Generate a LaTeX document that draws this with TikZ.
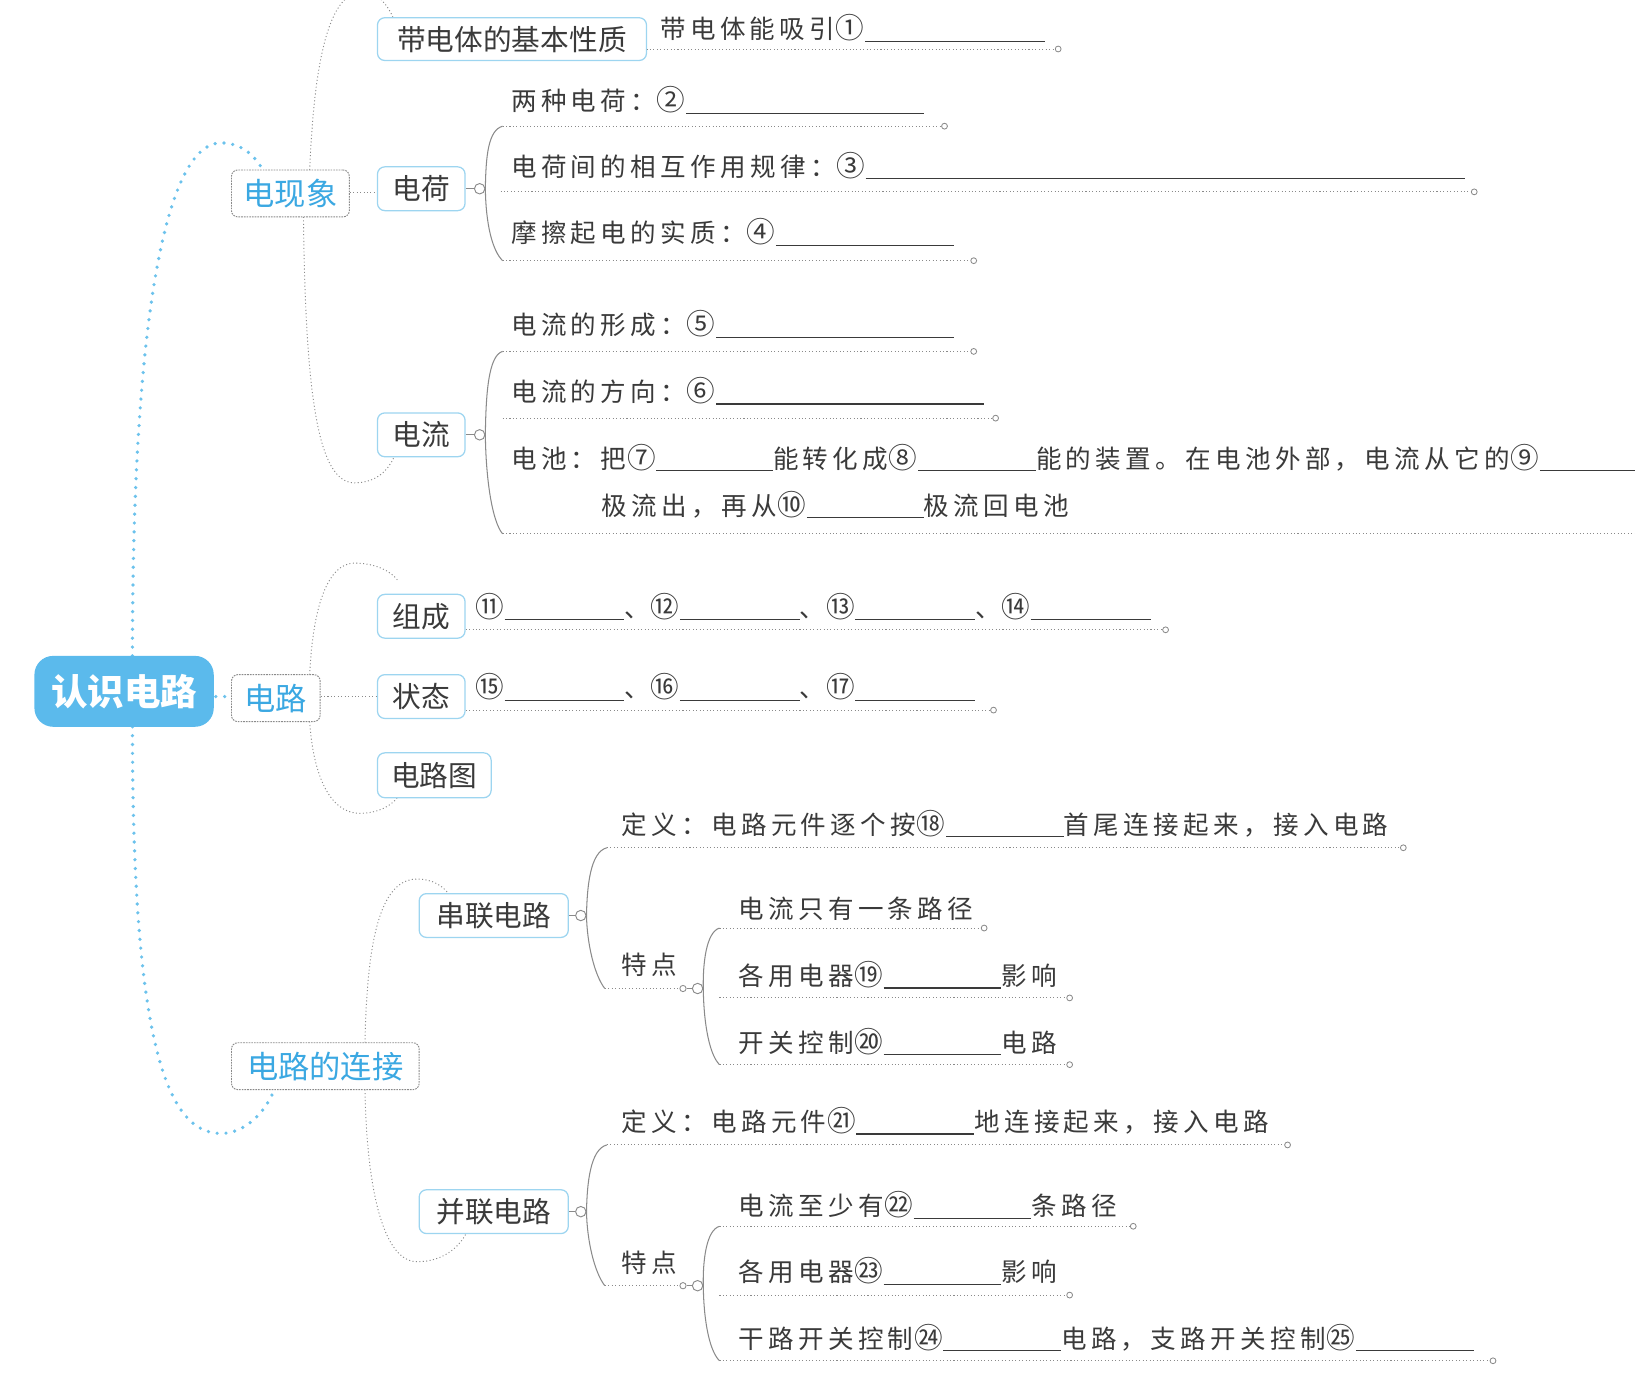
\documentclass[tikz,border=0pt]{standalone}
\usepackage{fontspec}
\newfontfamily\cjk{Noto Sans CJK SC}
\newfontfamily\leaf[LetterSpace=17]{Noto Sans CJK SC}
\definecolor{rootblue}{HTML}{5BBAEC}
\definecolor{skytext}{HTML}{3BA8E2}
\definecolor{lightedge}{HTML}{9DD5F0}
\definecolor{textgray}{HTML}{3A3A3A}
\definecolor{dotblue}{HTML}{6CC2EC}
\definecolor{linegray}{HTML}{8A8A8A}
\newcommand\bl[1]{\rule[-3pt]{#1pt}{1.1pt}}
\newcommand\cn[1]{\makebox[28.7pt][c]{\scalebox{1.12}{#1}}}
\newcommand\uline[3]{%
  \coordinate (#1s) at (#2);
  \coordinate (#1e) at (#3);
  \draw[dotline] (#1s) -- (#1e);
  \draw[linegray, line width=0.8pt, fill=white] (#1e) ++(2.8,0) circle (2.8pt);}
\begin{document}
\begin{tikzpicture}[x=1pt,y=-1pt,
  lvlone/.style={draw=linegray, line width=0.9pt, dash pattern=on 1.6pt off 1pt, rounded corners=6pt, fill=white,
    font=\cjk\fontsize{30}{30}\selectfont, text=skytext, minimum height=45pt, inner sep=0pt},
  lvltwo/.style={draw=lightedge, line width=1.2pt, rounded corners=7pt, fill=white,
    font=\cjk\fontsize{27.5}{28}\selectfont, text=textgray, minimum height=42pt, inner sep=0pt},
  leaftext/.style={anchor=base west, inner sep=0pt, font=\leaf\fontsize{24.5}{30}\selectfont, text=textgray},
  dotline/.style={draw=linegray, line width=0.9pt, dash pattern=on 1pt off 2.3pt},
  curvedots/.style={draw=linegray, line width=0.9pt, dash pattern=on 1pt off 2.3pt},
  bluedots/.style={draw=dotblue, line width=3.5pt, line cap=round, dash pattern=on 0pt off 8.5pt},
  bracket/.style={draw=linegray, line width=1pt},
  knot/.style={circle, draw=linegray, line width=0.9pt, fill=white, minimum size=10pt, inner sep=0pt},
  smallknot/.style={circle, draw=linegray, line width=0.8pt, fill=white, minimum size=6pt, inner sep=0pt}
]
\useasboundingbox (0,0) rectangle (1568,1323);

% ---------- blue main curves ----------
\coordinate (topA) at (252,163);
\coordinate (botA) at (263,1045);
\draw[bluedots] (127,629) .. controls (127,300) and (160,137) .. (212,137) .. controls (232,137) and (245,150) .. (topA);
\draw[bluedots] (127,697) .. controls (127,1000) and (160,1087) .. (212,1087) .. controls (235,1087) and (255,1066) .. (botA);
\draw[bluedots] (207,668) -- (221,668);

% ---------- gray dotted curves (level 1 -> level 2) ----------
\draw[curvedots] (297,163) .. controls (302,40) and (320,-8) .. (348,-8) .. controls (362,-8) and (372,5) .. (377,17);
\draw[curvedots] (291,208) .. controls (293,380) and (305,463) .. (340,463) .. controls (360,463) and (372,452) .. (378,438);
\draw[curvedots] (297,647) .. controls (300,580) and (315,540) .. (340,540) .. controls (360,540) and (375,548) .. (381,556);
\draw[curvedots] (297,692) .. controls (300,740) and (315,780) .. (345,780) .. controls (362,780) and (375,773) .. (381,765);
\draw[curvedots] (350,1000) .. controls (352,900) and (365,843) .. (400,843) .. controls (415,843) and (425,850) .. (430,857);
\draw[curvedots] (350,1045) .. controls (352,1150) and (370,1210) .. (400,1210) .. controls (425,1210) and (440,1196) .. (447,1183);

% ---------- root & level 1 ----------
\node[fill=rootblue, rounded corners=18pt, minimum width=172pt, minimum height=68pt, inner sep=0pt,
  text=white, font=\cjk\bfseries\fontsize{35}{35}\selectfont] (root) at (119,663) {认识电路};
\node[lvlone, minimum width=113pt] (phen) at (278.5,185.5) {电现象};
\node[lvlone, minimum width=85pt] (circ) at (264.5,669.5) {电路};
\node[lvlone, minimum width=180pt] (conn) at (312,1022.5) {电路的连接};

% ---------- level 2 ----------
\node[lvltwo, minimum width=258pt, minimum height=41pt] (prop) at (491,37.5) {带电体的基本性质};
\node[lvltwo, minimum width=84pt] (charge) at (404,181) {电荷};
\node[lvltwo, minimum width=84pt] (curr) at (404,417) {电流};
\node[lvltwo, minimum width=84pt] (comp) at (404,591) {组成};
\node[lvltwo, minimum width=84pt] (state) at (404,668) {状态};
\node[lvltwo, minimum width=109pt, minimum height=43pt] (diag) at (416.5,743.5) {电路图};
\node[lvltwo, minimum width=143pt] (series) at (473.5,878) {串联电路};
\node[lvltwo, minimum width=143pt] (para) at (473.5,1162) {并联电路};

\draw[dotline] (phen.east |- 0,185) -- (charge.west |- 0,185);
\draw[dotline] (circ.east |- 0,668) -- (state.west);

% ---------- 带电体的基本性质 ----------
\node[leaftext] (t1) at (633,37) {带电体能吸引\cn{①}\bl{172}};
\uline{u1}{620,47}{1012,47}

% ---------- 电荷 ----------
\node[knot] (k1) at (460,181) {};
\draw[bracket] (charge.east) -- (k1.west);
\node[leaftext] (t2) at (490,106) {两种电荷：\cn{②}\bl{228}};
\node[leaftext] (t3) at (490,169) {电荷间的相互作用规律：\cn{③}\bl{575}};
\node[leaftext] (t4) at (490,233) {摩擦起电的实质：\cn{④}\bl{171}};
\uline{u2}{482,121}{903,121}
\uline{u3}{480,184}{1411,184}
\uline{u4}{482,250}{931,250}
\draw[bracket] (u2s) .. controls (468,125) and (466,150) .. (k1.east) .. controls (466,215) and (472,240) .. (u4s);

% ---------- 电流 ----------
\node[knot] (k2) at (460,417) {};
\draw[bracket] (curr.east) -- (k2.west);
\node[leaftext] (t5) at (490,321) {电流的形成：\cn{⑤}\bl{228}};
\node[leaftext] (t6) at (490,385) {电流的方向：\cn{⑥}\bl{257}};
\node[leaftext] (t7) at (490,449) {电池：把\cn{⑦}\bl{112}能转化成\cn{⑧}\bl{113}能的装置。在电池外部，电流从它的\cn{⑨}\bl{100}};
\node[leaftext] (t7b) at (577,494) {极流出，再从\cn{⑩}\bl{112}极流回电池};
\uline{u5}{482,337}{931,337}
\uline{u6}{482,401}{952,401}
\coordinate (u7s) at (482,512);
\coordinate (u7e) at (1580,512);
\draw[dotline] (u7s) -- (u7e);
\draw[bracket] (u5s) .. controls (468,341) and (466,380) .. (k2.east) .. controls (466,460) and (472,500) .. (u7s);

% ---------- 组成 / 状态 ----------
\node[leaftext] (t8) at (455,592) {\cn{⑪}\bl{115}、\cn{⑫}\bl{115}、\cn{⑬}\bl{115}、\cn{⑭}\bl{115}};
\uline{u8}{comp.east |- 0,604}{1115,604}
\node[leaftext] (t9) at (455,669) {\cn{⑮}\bl{115}、\cn{⑯}\bl{115}、\cn{⑰}\bl{115}};
\uline{u9}{state.east |- 0,681}{950,681}

% ---------- 串联电路 ----------
\node[knot] (k3) at (557,878) {};
\draw[bracket] (series.east) -- (k3.west);
\node[leaftext] (t10) at (596,800) {定义：电路元件逐个按\cn{⑱}\bl{113}首尾连接起来，接入电路};
\node[leaftext] (t11) at (596,935) {特点};
\coordinate (u10s) at (582,813); \coordinate (u10e) at (1343,813);
\draw[dotline] (u10s) -- (u10e);
\draw[linegray, line width=0.8pt, fill=white] (u10e) ++(2.8,0) circle (2.8pt);
\coordinate (u11s) at (580,948);
\node[smallknot] (s1) at (655,948) {};
\node[knot] (k4) at (669,948) {};
\draw[dotline] (u11s) -- (s1.west);
\draw[bracket] (s1.east) -- (k4.west);
\draw[bracket] (u10s) .. controls (566,817) and (563,850) .. (k3.east) .. controls (563,905) and (570,935) .. (u11s);
\node[leaftext] (t12) at (708,881) {电流只有一条路径};
\node[leaftext] (t13) at (708,945) {各用电器\cn{⑲}\bl{113}影响};
\node[leaftext] (t14) at (708,1009) {开关控制\cn{⑳}\bl{113}电路};
\uline{u12}{690,890}{941,890}
\uline{u13}{690,957}{1023,957}
\uline{u14}{690,1021}{1023,1021}
\draw[bracket] (u12s) .. controls (677,894) and (674,925) .. (k4.east) .. controls (675,985) and (681,1012) .. (u14s);

% ---------- 并联电路 ----------
\node[knot] (k5) at (557,1162) {};
\draw[bracket] (para.east) -- (k5.west);
\node[leaftext] (t15) at (596,1085) {定义：电路元件\cn{㉑}\bl{113}地连接起来，接入电路};
\node[leaftext] (t16) at (596,1220) {特点};
\coordinate (u15s) at (582,1098); \coordinate (u15e) at (1232,1098);
\draw[dotline] (u15s) -- (u15e);
\draw[linegray, line width=0.8pt, fill=white] (u15e) ++(2.8,0) circle (2.8pt);
\coordinate (u16s) at (580,1233);
\node[smallknot] (s2) at (655,1233) {};
\node[knot] (k6) at (669,1233) {};
\draw[dotline] (u16s) -- (s2.west);
\draw[bracket] (s2.east) -- (k6.west);
\draw[bracket] (u15s) .. controls (566,1102) and (563,1135) .. (k5.east) .. controls (563,1190) and (570,1220) .. (u16s);
\node[leaftext] (t17) at (708,1166) {电流至少有\cn{㉒}\bl{113}条路径};
\node[leaftext] (t18) at (708,1229) {各用电器\cn{㉓}\bl{113}影响};
\node[leaftext] (t19) at (708,1293) {干路开关控制\cn{㉔}\bl{113}电路，支路开关控制\cn{㉕}\bl{113}};
\uline{u17}{690,1176}{1084,1176}
\uline{u18}{690,1242}{1023,1242}
\uline{u19}{690,1305}{1429,1305}
\draw[bracket] (u17s) .. controls (677,1180) and (674,1210) .. (k6.east) .. controls (675,1270) and (681,1296) .. (u19s);
\end{tikzpicture}
\end{document}
